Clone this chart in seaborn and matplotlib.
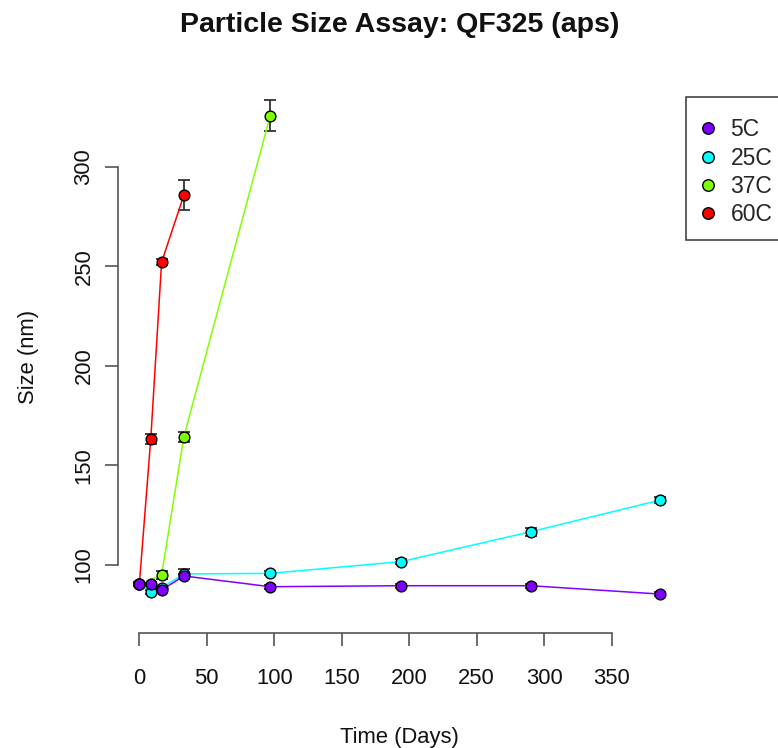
import matplotlib
matplotlib.use("Agg")
import matplotlib.pyplot as plt
from matplotlib.lines import Line2D
from matplotlib.patches import Rectangle
import seaborn as sns
import pandas as pd

# ---- data ----
series_names = ["5C", "25C", "37C", "60C"]
series_colors = ["#8000FF", "#00FFFF", "#80FF00", "#FF0000"]

days_5C = [0, 8.5, 16.5, 33, 97, 194, 290, 386]
size_5C = [90.3, 90.3, 87.4, 94.5, 89.1, 89.6, 89.6, 85.4]
err_5C = [1.0, 1.0, 1.0, 1.2, 1.0, 1.0, 1.0, 1.0]

days_25C = [0, 8.5, 16.5, 33, 97, 194, 290, 386]
size_25C = [90.3, 86.6, 88.5, 95.5, 95.8, 101.7, 116.7, 132.6]
err_25C = [1.0, 1.0, 1.0, 2.5, 1.0, 1.2, 2.0, 1.5]

days_37C = [0, 16.5, 33, 97]
size_37C = [90.3, 95.0, 164.4, 325.6]
err_37C = [1.0, 2.0, 2.5, 7.8]

days_60C = [0, 8.5, 16.5, 33]
size_60C = [90.3, 163.5, 252.0, 285.7]
err_60C = [1.0, 2.5, 1.5, 7.7]

x_ticks = [0, 50, 100, 150, 200, 250, 300, 350]
y_ticks = [100, 150, 200, 250, 300]

title = "Particle Size Assay: QF325 (aps)"
x_label = "Time (Days)"
y_label = "Size (nm)"

# ---- build table ----
frames = []
for name, d, s, e in zip(series_names,
                         [days_5C, days_25C, days_37C, days_60C],
                         [size_5C, size_25C, size_37C, size_60C],
                         [err_5C, err_25C, err_37C, err_60C]):
    frames.append(pd.DataFrame({"Series": name, "Days": d, "Size": s, "Err": e}))
df = pd.concat(frames, ignore_index=True)
palette = dict(zip(series_names, series_colors))

sns.set_style("white")
plt.rcParams["font.family"] = ["Liberation Sans", "DejaVu Sans"]

W, H = 778, 748
fig = plt.figure(figsize=(W / 100, H / 100), dpi=100)
left_px, right_px, top_px, bot_px = 118, 681.6, 80, 633
ax = fig.add_axes([left_px / W, 1 - bot_px / H, (right_px - left_px) / W, (bot_px - top_px) / H])

draw_order = series_names[::-1]  # 5C ends up on top

# error bars
for name in draw_order:
    sub = df[df["Series"] == name]
    ax.errorbar(sub["Days"], sub["Size"], yerr=sub["Err"], fmt="none",
                ecolor="#333333", elinewidth=1.3, capsize=4.5, capthick=1.3, zorder=2)

# lines and points, one series at a time
for i, name in enumerate(draw_order):
    sub = df[df["Series"] == name]
    sns.lineplot(data=sub, x="Days", y="Size", color=palette[name], sort=False,
                 estimator=None, linewidth=1.1, legend=False, ax=ax, zorder=3 + i * 0.01)
for i, name in enumerate(draw_order):
    sub = df[df["Series"] == name]
    sns.scatterplot(data=sub, x="Days", y="Size", color=palette[name], s=60,
                    edgecolor="black", linewidth=1.0, legend=False, ax=ax,
                    zorder=4 + i * 0.01)

ax.set_xlim(-15.8, 401.8)
ax.set_ylim(65.86, 343.5)
ax.set_xticks(x_ticks)
ax.set_yticks(y_ticks)
ax.set_xticklabels([str(v) for v in x_ticks])
ax.set_yticklabels([str(v) for v in y_ticks], rotation=90, va="center")
for sp in ["top", "right"]:
    ax.spines[sp].set_visible(False)
ax.spines["left"].set_bounds(100, 300)
ax.spines["bottom"].set_bounds(0, 350)
for sp in ["left", "bottom"]:
    ax.spines[sp].set_color("#555555")
    ax.spines[sp].set_linewidth(1.2)
ax.tick_params(axis="both", direction="out", length=9.5, width=1.2, color="#555555",
               labelsize=15.8, labelcolor="#111111", bottom=True, left=True)
ax.tick_params(axis="x", pad=16)
ax.tick_params(axis="y", pad=7.5)
ax.set_xlabel(x_label, fontsize=15.8, labelpad=27, color="#111111")
ax.set_ylabel(y_label, fontsize=15.8, labelpad=25, color="#111111")
ax.set_facecolor("white")

fig.text(400 / W, 1 - 25 / H, title, ha="center", va="center",
         fontsize=20.5, fontweight="bold", color="#111111")

# legend box (extends past the right edge, as in the reference)
fig.patches.append(Rectangle((686 / W, 1 - 240 / H), 120 / W, 143 / H,
                             transform=fig.transFigure, facecolor="white",
                             edgecolor="#444444", linewidth=1.2, zorder=5))
handles = [Line2D([0], [0], marker="o", linestyle="none", markerfacecolor=c,
                  markeredgecolor="black", markersize=8.3, markeredgewidth=1.0)
           for c in series_colors]
leg = fig.legend(handles, series_names, loc="upper left",
                 bbox_to_anchor=(699 / W, 1 - 118.5 / H), frameon=False,
                 fontsize=16.5, handletextpad=0.57, labelspacing=0.225,
                 borderpad=0, handlelength=0.8, borderaxespad=0)
leg.set_zorder(6)

fig.savefig("out.png", dpi=100, facecolor="white")
